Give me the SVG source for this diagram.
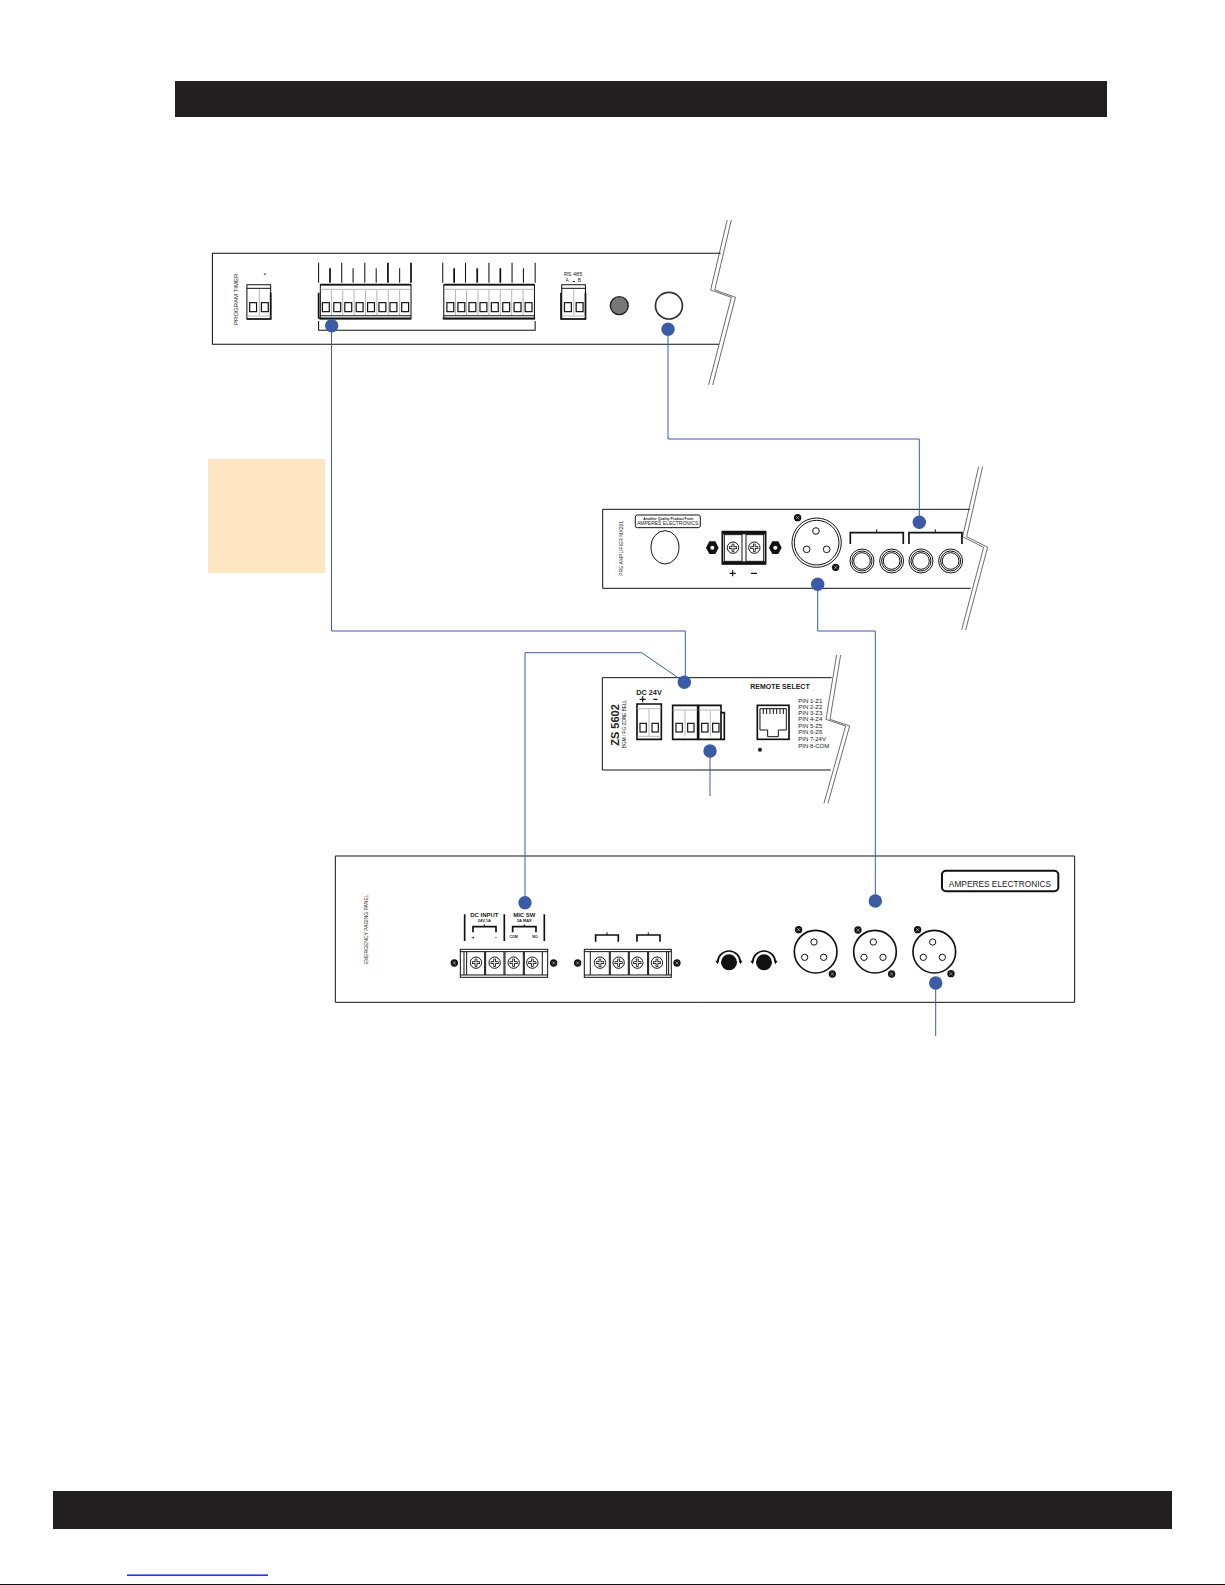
<svg xmlns="http://www.w3.org/2000/svg" width="1225" height="1585" viewBox="0 0 1225 1585">
<style>
text{font-family:"Liberation Sans",Arial,sans-serif;fill:#222}
.m{text-anchor:middle}
.b{font-weight:bold}
.bar{fill:#231f20}
.k{fill:none;stroke:#111;stroke-width:3}
.t{fill:none;stroke:#111;stroke-width:5}
.kw{fill:#fff;stroke:#111;stroke-width:3}
.g{fill:none;stroke:#aaa;stroke-width:2.5}
.brk{fill:none;stroke:#222;stroke-width:2}
.wire{fill:none;stroke:#3a5ba8;stroke-width:1}
.dot{fill:#3a5ba8}
</style>
<defs>
<g id="screw"><circle r="17" class="kw"/><path d="M-12 0H12M0-12V12" stroke="#111" stroke-width="8"/><path d="M-10 0H10M0-10V10" stroke="#fff" stroke-width="3"/></g>
<g id="bolt"><circle r="11" fill="#111"/><path d="M-5-5L5 5M-5 5L5-5" stroke="#fff" stroke-width="1.5"/></g>
<g id="nut"><path d="M-19 0L-9-19H9L19 0L9 19H-9Z" fill="#111"/><circle r="6" fill="#fff"/></g>
<g id="jack"><circle r="36" class="kw"/><circle r="30" class="k"/><circle r="25" class="k"/></g>
<g id="xlr"><circle r="64" fill="#fff" stroke="#111" stroke-width="5"/><circle cx="-5" cy="-29" r="9.5" class="kw"/><circle cx="-33" cy="17" r="9.5" class="kw"/><circle cx="24" cy="17" r="9.5" class="kw"/></g>
<g id="knob"><circle r="24" fill="#111"/><path d="M-34 0A34 34 0 0 1 34 0" fill="none" stroke="#111" stroke-width="5"/><path d="M-41-5L-30-5L-34 6ZM41-5L30-5L34 6Z" fill="#111"/></g>
<rect id="sq" width="20" height="27" fill="#fff" stroke="#111" stroke-width="3.5"/>
<rect id="sq3" width="19" height="26" fill="#fff" stroke="#111" stroke-width="3.5"/>
</defs>

<rect id="top-bar" class="bar" x="175" y="81" width="932" height="36"/>
<rect id="note-box" x="208" y="459" width="117" height="114" fill="#ffe6c2"/>
<rect id="bottom-bar" class="bar" x="53" y="1491" width="1119" height="38"/>
<rect id="link-line" x="127" y="1574.5" width="141" height="1.3" fill="#0000ee"/>
<rect id="bottom-strip" x="0" y="1584" width="1225" height="1" fill="#111"/>

<g id="program-timer" transform="translate(200 210) scale(.3448 .3333)">
<path class="k" d="M1510 130H36V403H1505"/>
<path class="brk" d="M1541 30L1493 240L1553 262L1487 525M1529 30L1481 240L1541 262L1475 525"/>
<text transform="translate(110 268) rotate(-90)" class="m" font-size="18" fill="#333">PROGRAM TIMER</text>
<rect x="185" y="191" width="6" height="3" fill="#111"/>
<g id="tb-a">
<path class="k" d="M136 327V224H205V327Z"/><path class="k" d="M136 235H205"/><path class="t" d="M205 248V327H136"/><path class="g" d="M172 238V315M136 318H205"/>
<use href="#sq" x="144" y="278"/><use href="#sq" x="178" y="278"/></g>
<g id="tb-b">
<path class="k" d="M349 224H612V327H349Z"/><path class="t" d="M349 224H612M344 325H612M344 248V325"/><path class="k" d="M349 317H612"/><path class="g" d="M349 238H612M381 240V315M414 240V315M447 240V315M480 240V315M513 240V315M546 240V315M579 240V315"/>
<use href="#sq" x="355" y="278"/><use href="#sq" x="388" y="278"/><use href="#sq" x="420" y="278"/><use href="#sq" x="453" y="278"/><use href="#sq" x="486" y="278"/><use href="#sq" x="519" y="278"/><use href="#sq" x="551" y="278"/><use href="#sq" x="585" y="278"/>
<path class="k" d="M344 158V218M411 158V218M478 158V218M444 175V218M511 175V218M579 175V218"/><path class="t" d="M377 175V218M545 158V218M612 158V218"/>
</g>
<g id="tb-c">
<path class="k" d="M707 224H970V327H707Z"/><path class="t" d="M707 224H970M704 325H972"/><path class="k" d="M707 317H970"/><path class="g" d="M707 238H970M741 240V315M773 240V315M806 240V315M838 240V315M871 240V315M904 240V315M937 240V315"/>
<use href="#sq" x="716" y="278"/><use href="#sq" x="748" y="278"/><use href="#sq" x="780" y="278"/><use href="#sq" x="812" y="278"/><use href="#sq" x="845" y="278"/><use href="#sq" x="878" y="278"/><use href="#sq" x="911" y="278"/><use href="#sq" x="943" y="278"/>
<path class="k" d="M704 158V218M770 158V218M838 158V218M905 158V218M972 158V218M938 175V218"/><path class="t" d="M737 175V218M804 175V218M871 175V218"/>
</g>
<path class="k" d="M344 333V361H972V333"/>
<text x="1082" y="199" class="m" font-size="16">RS 485</text>
<text x="1065" y="216" class="m" font-size="14">A</text><text x="1100" y="216" class="m" font-size="14">B</text><rect x="1081" y="213" width="6" height="3" fill="#111"/>
<g id="tb-d">
<path class="k" d="M1049 327V224H1118V327Z"/><path class="k" d="M1049 235H1118"/><path class="t" d="M1118 248V327H1047V248"/><path class="g" d="M1084 238V315M1049 318H1118"/>
<use href="#sq" x="1057" y="278"/><use href="#sq" x="1091" y="278"/></g>
<ellipse cx="1216" cy="287" rx="26" ry="27" fill="#777" stroke="#222" stroke-width="4"/>
<ellipse cx="1360" cy="287" rx="39" ry="40" fill="#fff" stroke="#333" stroke-width="5"/>
</g>

<g id="pre-amplifier" transform="translate(590 460) scale(.3333)">
<path class="k" d="M1140 148H38V385H1142"/>
<path class="brk" d="M1178 20L1130 230L1193 262L1127 510M1166 20L1118 230L1181 262L1115 510"/>
<text transform="translate(100 265) rotate(-90)" class="m" font-size="15" fill="#333">PRE AMPLIFIER MX201</text>
<rect x="136" y="165" width="195" height="38" rx="6" class="k"/>
<text x="235" y="179" class="m b" font-size="10.5">Another Quality Product From</text>
<text x="233" y="196" class="m" font-size="15">AMPERES ELECTRONICS</text>
<ellipse cx="225" cy="262" rx="42" ry="50" class="k"/>
<use href="#nut" x="367" y="263"/><use href="#nut" x="556" y="263"/>
<path class="t" d="M397 312V215H527V312Z"/>
<rect x="397" y="214" width="130" height="9" fill="#111"/><rect x="397" y="304" width="130" height="9" fill="#111"/>
<rect x="403" y="224" width="53" height="80" class="kw"/><rect x="468" y="224" width="53" height="80" class="kw"/>
<use href="#screw" x="429" y="263"/><use href="#screw" x="493" y="263"/>
<path d="M419 340H437M428 331V349M483 340H501" stroke="#111" stroke-width="3.5" fill="none"/>
<circle cx="680" cy="248" r="74" class="kw"/><circle cx="680" cy="248" r="67" class="k"/>
<circle cx="678" cy="213" r="10" class="kw"/><circle cx="650" cy="268" r="10" class="kw"/><circle cx="710" cy="268" r="10" class="kw"/>
<use href="#bolt" x="623" y="173"/><use href="#bolt" x="737" y="322"/>
<path class="t" d="M781 252V218H940V252M957 252V218H1116V252"/><path class="k" d="M860 208V218M1036 208V218"/>
<use href="#jack" x="816" y="303"/><use href="#jack" x="905" y="303"/><use href="#jack" x="993" y="303"/><use href="#jack" x="1082" y="303"/>
</g>

<g id="zone-selector" transform="translate(590 640) scale(.3333)">
<path class="k" d="M725 113H37V390H722"/>
<path class="brk" d="M752 45L720 238L779 258L714 490M740 45L708 238L767 258L702 490"/>
<text transform="translate(88 255) rotate(-90)" class="m b" font-size="33" fill="#111">ZS 5602</text>
<text transform="translate(108 252) rotate(-90)" class="m" font-size="14">BGM / PG ZONE BELL</text>
<text x="177" y="165" class="m b" font-size="22">DC 24V</text>
<path d="M149 178H167M158 169V187M190 178H202" stroke="#111" stroke-width="3.5" fill="none"/>
<path class="t" d="M141 298V192H214V298Z"/><path class="g" d="M177 208V288M141 206H214M141 289H214"/><use href="#sq3" x="150" y="250"/><use href="#sq3" x="186" y="250"/>
<path class="t" d="M248 298V196H323V298Z"/><path class="g" d="M285 212V290M248 210H323"/><use href="#sq3" x="258" y="250"/><use href="#sq3" x="293" y="250"/>
<path class="t" d="M326 298V196H393V298ZM393 218H403V298H393"/><path class="g" d="M361 212V290M326 210H393"/><use href="#sq3" x="335" y="250"/><use href="#sq3" x="368" y="250"/>
<text x="570" y="146" class="m b" font-size="21">REMOTE SELECT</text>
<rect x="502" y="196" width="95" height="102" class="t"/>
<path class="k" d="M510 206H589V270H565V290H533V270H510Z"/>
<path class="k" d="M520 206V222M530 206V222M540 206V222M550 206V222M560 206V222M570 206V222M580 206V222"/>
<circle cx="510" cy="329" r="6" fill="#111"/>
<g font-size="18"><text x="625" y="189">PIN 1-Z1</text><text x="625" y="207">PIN 2-Z2</text><text x="625" y="226">PIN 3-Z3</text><text x="625" y="244">PIN 4-Z4</text><text x="625" y="263">PIN 5-Z5</text><text x="625" y="283">PIN 6-Z6</text><text x="625" y="303">PIN 7-24V</text><text x="625" y="323">PIN 8-COM</text></g>
</g>

<g id="paging-panel-left" transform="translate(330 845) scale(.3333)">
<path class="k" d="M16 33H1110M16 33V472H1110"/>
<text transform="translate(114 253) rotate(-90)" class="m" font-size="15" fill="#333">EMERGENCY PAGING PANEL</text>
<text x="463" y="216" class="m b" font-size="18">DC INPUT</text><text x="463" y="231" class="m b" font-size="12">24V,1A</text>
<text x="583" y="216" class="m b" font-size="18">MIC SW</text><text x="583" y="231" class="m b" font-size="12">3A MAX</text>
<path class="t" d="M404 208V288M523 208V288M643 208V288M429 262V245H498V262M548 262V245H618V262"/><path class="k" d="M463 238V245M583 238V245"/>
<text x="429" y="282" class="m b" font-size="16">+</text><text x="498" y="282" class="m b" font-size="16">-</text>
<text x="551" y="280" class="m b" font-size="11">COM</text><text x="615" y="280" class="m b" font-size="11">NO</text>
<rect x="391" y="313" width="262" height="84" class="kw"/><path class="k" d="M391 320H653M391 390H653M402 320V390M410 320V390M464 320V390M467 320V390M522 320V390M525 320V390M580 320V390M583 320V390M637 320V390"/>
<use href="#screw" x="438" y="353"/><use href="#screw" x="494" y="353"/><use href="#screw" x="551" y="353"/><use href="#screw" x="607" y="353"/>
<use href="#bolt" x="373" y="354"/><use href="#bolt" x="671" y="354"/>
<path class="t" d="M797 290V270H865V290M921 290V270H990V290"/><path class="k" d="M831 262V270M955 262V270"/>
<rect x="763" y="313" width="261" height="84" class="kw"/><path class="k" d="M763 320H1024M763 390H1024M781 320V390M838 320V390M841 320V390M895 320V390M898 320V390M953 320V390M956 320V390M1010 320V390M1016 320V390"/>
<use href="#screw" x="810" y="353"/><use href="#screw" x="866" y="353"/><use href="#screw" x="922" y="353"/><use href="#screw" x="981" y="353"/>
<use href="#bolt" x="743" y="354"/><use href="#bolt" x="1041" y="354"/>
</g>

<g id="paging-panel-right" transform="translate(700 845) scale(.3333)">
<path class="k" d="M0 33H1124V472H0"/>
<use href="#knob" x="87" y="352"/><use href="#knob" x="192" y="352"/>
<use href="#xlr" x="347" y="320"/><use href="#xlr" x="525" y="320"/><use href="#xlr" x="703" y="320"/>
<use href="#bolt" x="296" y="254"/><use href="#bolt" x="397" y="387"/><use href="#bolt" x="474" y="255"/><use href="#bolt" x="575" y="387"/><use href="#bolt" x="653" y="254"/><use href="#bolt" x="753" y="386"/>
<rect x="726" y="77" width="349" height="62" rx="12" fill="none" stroke="#111" stroke-width="6"/>
<text x="900" y="127" class="m" font-size="25">AMPERES ELECTRONICS</text>
</g>

<g id="connectors">
<path class="wire" d="M331.5 325.7V631H685.3V682"/>
<path class="wire" d="M668 329V439H919.3V522"/>
<path class="wire" d="M817.7 584V631H875.3V901"/>
<path class="wire" d="M525 902V652.7H641.7L684.3 682"/>
<path class="wire" d="M710 751V796"/>
<path class="wire" d="M935.7 983V1036"/>
<g id="dots">
<circle class="dot" cx="331.7" cy="325.7" r="6.7"/><circle class="dot" cx="668" cy="329.3" r="6.7"/>
<circle class="dot" cx="919.3" cy="522.3" r="6.7"/><circle class="dot" cx="817.7" cy="584.3" r="6.7"/>
<circle class="dot" cx="684.3" cy="682.3" r="6.7"/><circle class="dot" cx="710" cy="751" r="6.7"/>
<circle class="dot" cx="525" cy="902.7" r="6.7"/><circle class="dot" cx="875.3" cy="901" r="6.7"/>
<circle class="dot" cx="935.7" cy="983" r="6.7"/>
</g>
</g>
</svg>
